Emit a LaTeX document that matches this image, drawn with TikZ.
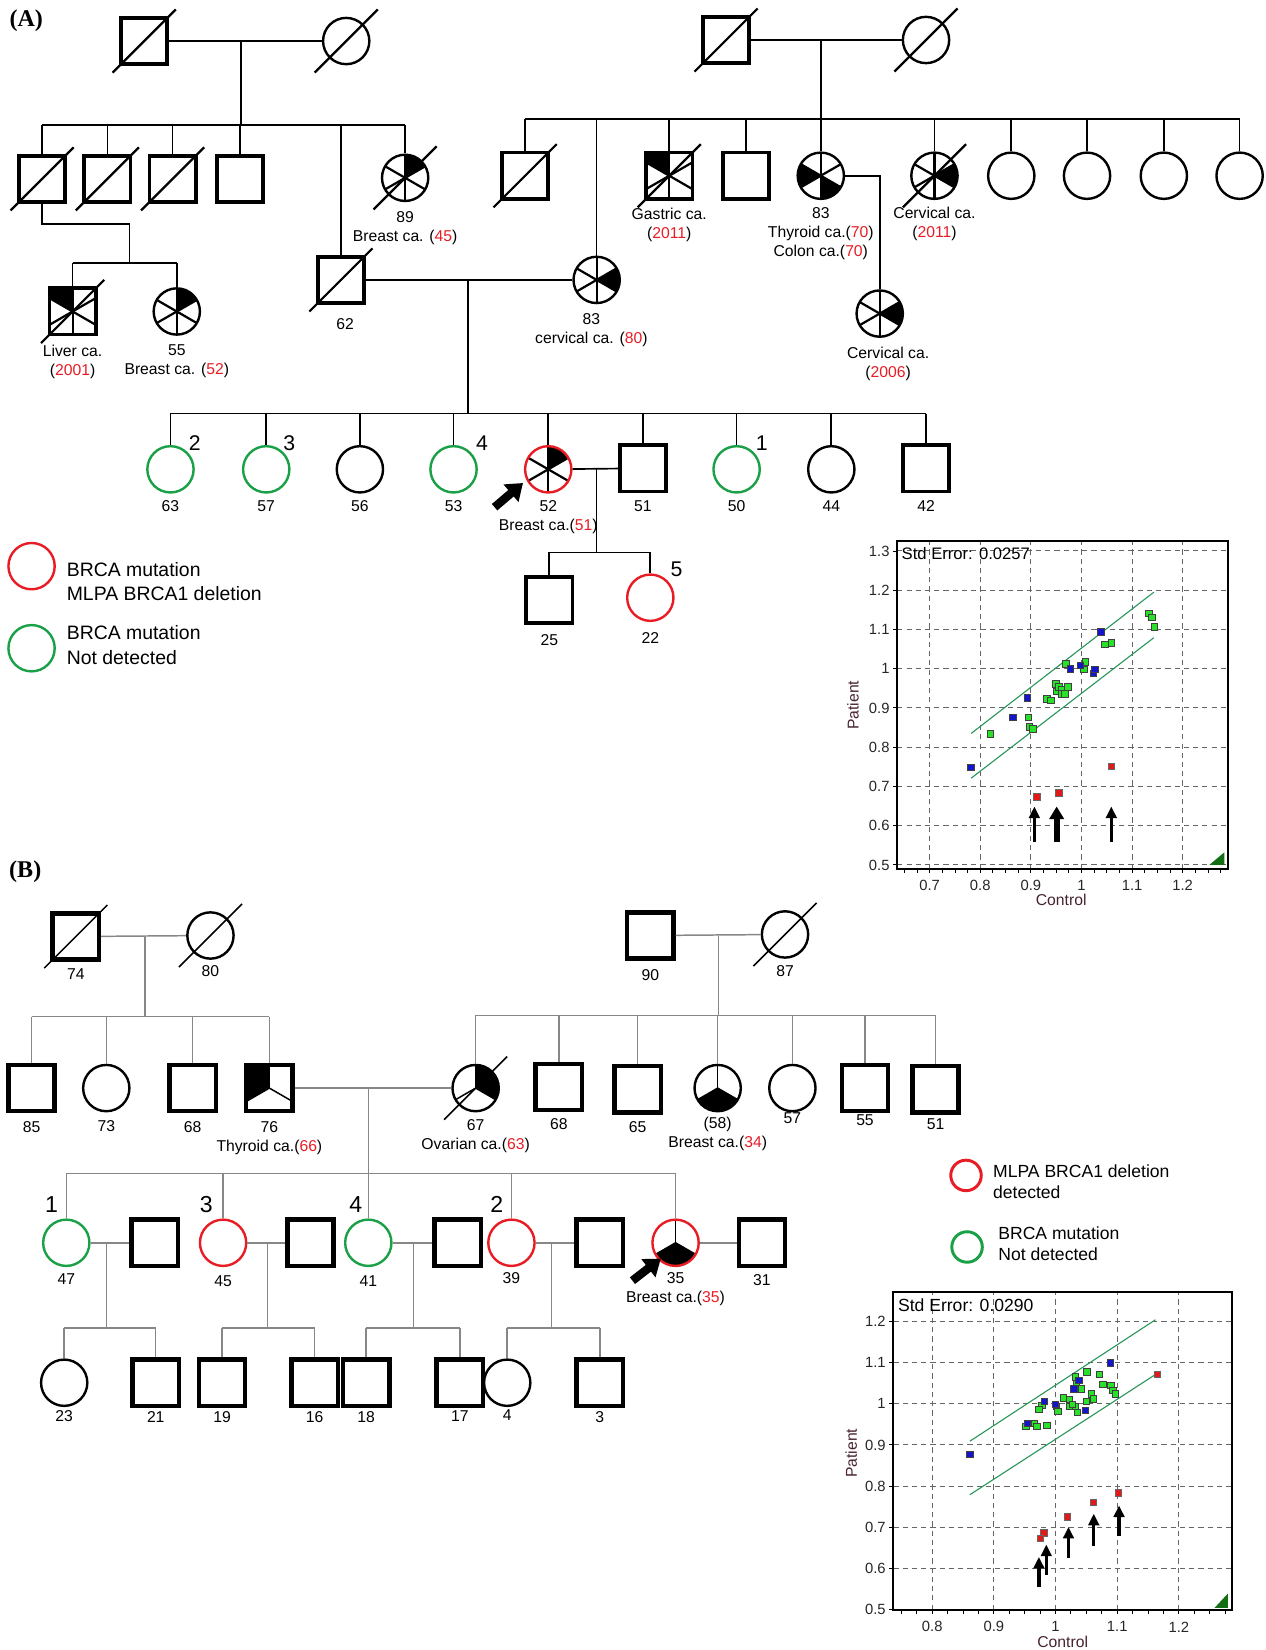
\documentclass[tikz,border=0pt]{standalone}
\usepackage{fontspec}
\setmainfont{Liberation Sans}
\newfontfamily\panelfont{Liberation Serif}
\usepackage{tikz}
\usetikzlibrary{arrows.meta,positioning}
\usepackage{xcolor}
\definecolor{PedRed}{RGB}{232,28,36}
\definecolor{PedGreen}{RGB}{26,160,70}
\definecolor{PedGray}{RGB}{135,135,135}
\definecolor{DotGreen}{RGB}{40,225,40}
\definecolor{DotBlue}{RGB}{20,20,205}
\definecolor{DotRed}{RGB}{225,25,25}
\definecolor{BandGreen}{RGB}{40,150,90}
\definecolor{CornerGreen}{RGB}{20,110,20}
\definecolor{AxisText}{RGB}{70,35,45}
\newcommand{\redage}[1]{\textcolor{PedRed}{#1}}
\newcommand{\deceased}[2][deadmark]{\draw[#1] ([shift={(-30,30)}]#2.center) -- ([shift={(30,-30)}]#2.center);}
\tikzset{
  male/.style={draw,rectangle,line width=2pt,minimum width=0.88cm,minimum height=0.88cm,inner sep=0pt},
  maleB/.style={male,line width=2.4pt},
  female/.style={draw,circle,line width=1.3pt,minimum size=0.88cm,inner sep=0pt},
  testneg/.style={female,draw=PedGreen},
  testpos/.style={female,draw=PedRed},
  kinline/.style={line width=0.9pt},
  kinlineB/.style={line width=0.8pt,draw=PedGray},
  deadmark/.style={line width=1.2pt},
  deadmarkB/.style={line width=0.8pt},
  pie6/.style={path picture={
    \foreach \s/\e in {#1}{\fill[black] (path picture bounding box.center) -- ++(\s:1cm)
      arc[start angle=\s,end angle=\e,radius=1cm] -- cycle;}
    \foreach \a in {30,90,...,330}{\draw[black,line width=1.2pt] (path picture bounding box.center) -- ++(\a:1cm);}}},
  pie3/.style={path picture={
    \foreach \s/\e in {#1}{\fill[black] (path picture bounding box.center) -- ++(\s:1cm)
      arc[start angle=\s,end angle=\e,radius=1cm] -- cycle;}
    \foreach \a in {90,210,330}{\draw[black,line width=0.8pt] (path picture bounding box.center) -- ++(\a:1cm);}}},
  agetext/.style={font=\fontsize{8.5}{10.3}\selectfont,inner sep=0pt,align=center},
  gennum/.style={font=\fontsize{11.5}{13}\selectfont,inner sep=0pt},
  gennumB/.style={font=\fontsize{12.5}{14}\selectfont,inner sep=0pt},
  keytext/.style={font=\fontsize{10.5}{13}\selectfont,inner sep=0pt,align=left},
  keytextB/.style={font=\fontsize{9.5}{11.4}\selectfont,inner sep=0pt,align=left},
  paneltag/.style={font=\panelfont\bfseries\fontsize{13}{15}\selectfont,inner sep=0pt},
  proband/.style={line width=0.16cm,-{Triangle[length=0.3cm,width=0.42cm]}},
  plotframe/.style={line width=1.1pt},
  plotgrid/.style={line width=0.55pt,draw=black!60,dash pattern=on 2.8pt off 2.2pt},
  band/.style={line width=0.6pt,draw=BandGreen},
  dotG/.style={fill=DotGreen,draw=black!75,line width=0.5pt},
  dotB/.style={fill=DotBlue,draw=black!75,line width=0.5pt},
  dotR/.style={fill=DotRed,draw=black!60,line width=0.5pt},
  plottick/.style={line width=0.5pt},
  ticktext/.style={font=\fontsize{8}{9}\selectfont,inner sep=0pt,text=black!85},
  axistitle/.style={font=\fontsize{8.5}{10}\selectfont,inner sep=0pt,text=AxisText},
  errtext/.style={font=\fontsize{9}{10}\selectfont,inner sep=0pt,anchor=west},
  upmark/.style={line width=1.8pt,-{Triangle[length=0.22cm,width=0.2cm]}},
}
\begin{document}
\begin{tikzpicture}[x=0.02cm,y=-0.02cm]
  \useasboundingbox (0,0) rectangle (1203,1568);
  \node[paneltag] (tagA) at (25,20) {(A)};
  \node[male] (i1) at (137,39) {};
  \node[female] (i2) at (329,39) {};
  \node[male] (i3) at (690,38) {};
  \node[female] (i4) at (880,38) {};
  \coordinate (sibL) at (229,119);
  \coordinate (sibR) at (780,113);
  \node[male] (a1) at (40,170) {};
  \node[male] (a2) at (102,170) {};
  \node[male] (a3) at (164,170) {};
  \node[male] (a4) at (228,170) {};
  \node[female,pie6={30/90}] (a89) at (385,169) {};
  \node[male] (a62) at (324,266) {};
  \node[male] (b1) at (499,167) {};
  \node[male,pie6={90/150}] (b2) at (636,167) {};
  \node[male] (b3) at (709,167) {};
  \node[female,pie6={150/210,270/330}] (b4) at (780,167) {};
  \node[female,pie6={-30/30}] (b5) at (888,167) {};
  \node[female] (b6) at (961,167) {};
  \node[female] (b7) at (1033,167) {};
  \node[female] (b8) at (1106,167) {};
  \node[female] (b9) at (1178,167) {};
  \node[female,pie6={-30/30}] (b83) at (567,266) {};
  \node[female,pie6={-30/30}] (b10) at (836,298) {};
  \coordinate (kA) at (123,213);
  \coordinate (sA2) at (123,250);
  \node[male,pie6={90/150}] (c1) at (69,296) {};
  \node[female,pie6={30/90}] (c2) at (168,296) {};
  \coordinate (sC) at (445,393);
  \node[testneg] (g63) at (162,446) {};
  \node[testneg] (g57) at (253,446) {};
  \node[female] (g56) at (342,446) {};
  \node[testneg] (g53) at (431,446) {};
  \node[testpos,pie6={30/90}] (p52) at (521,446) {};
  \node[male] (s51) at (611,445) {};
  \node[testneg] (g50) at (700,446) {};
  \node[female] (g44) at (790,446) {};
  \node[male] (s42) at (880,445) {};
  \coordinate (sD) at (567,525);
  \node[male] (s25) at (522,570) {};
  \node[testpos] (g22) at (618,568) {};
  \foreach \nm in {i1,i2,i3,i4,a1,a2,a3,a89,a62,b1,b2,b5,c1} \deceased{\nm};

  \draw[kinline] (i1) -- (i2);
  \draw[kinline] (sibL |- i1) -- (sibL);
  \draw[kinline] (a1 |- sibL) -- (a89 |- sibL);
  \foreach \nm in {a1,a2,a3,a4,a62,a89} \draw[kinline] (\nm |- sibL) -- (\nm);
  \draw[kinline] (i3) -- (i4);
  \draw[kinline] (sibR |- i3) -- (sibR);
  \draw[kinline] (b1 |- sibR) -- (b9 |- sibR);
  \foreach \nm in {b1,b83,b2,b3,b4,b5,b6,b7,b8,b9} \draw[kinline] (\nm |- sibR) -- (\nm);
  \draw[kinline] (b4) -| (b10);
  \draw[kinline] (a1) |- (kA) -- (sA2);
  \draw[kinline] (c1 |- sA2) -- (c2 |- sA2);
  \foreach \nm in {c1,c2} \draw[kinline] (\nm |- sA2) -- (\nm);
  \draw[kinline] (a62) -- (b83);
  \draw[kinline] (sC |- a62) -- (sC);
  \draw[kinline] (g63 |- sC) -- (s42 |- sC);
  \foreach \nm in {g63,g57,g56,g53,p52,s51,g50,g44,s42} \draw[kinline] (\nm |- sC) -- (\nm);
  \draw[kinline] (p52) -- (s51);
  \draw[kinline] (sD |- p52) -- (sD);
  \draw[kinline] (s25 |- sD) -- (g22 |- sD);
  \foreach \nm in {s25,g22} \draw[kinline] (\nm |- sD) -- (\nm);

  \node[agetext,below=0.17cm of a89] (t89) {89\\Breast ca. (\redage{45})};
  \node[agetext,below=0.15cm of c1] (tc1) {Liver ca.\\(\redage{2001})};
  \node[agetext,below=0.17cm of c2] (tc2) {55\\Breast ca. (\redage{52})};
  \node[agetext,below=0.25cm of a62,xshift=0.08cm] (t62) {62};
  \node[agetext,below=0.17cm of b83,xshift=-0.1cm] (t83c) {83\\cervical ca. (\redage{80})};
  \node[agetext,below=0.13cm of b2] (tb2) {Gastric ca.\\(\redage{2011})};
  \node[agetext,below=0.13cm of b4] (tb4) {83\\Thyroid ca.(\redage{70})\\Colon ca.(\redage{70})};
  \node[agetext,below=0.13cm of b5] (tb5) {Cervical ca.\\(\redage{2011})};
  \node[agetext,below=0.17cm of b10,xshift=0.16cm] (tb10) {Cervical ca.\\(\redage{2006})};
  \foreach \nm/\val in {g63/63,g57/57,g56/56,g53/53,s51/51,g50/50,g44/44,s42/42}
    \node[agetext,below=0.13cm of \nm] (age\val) {\val};
  \node[agetext,below=0.13cm of p52] (t52) {52\\Breast ca.(\redage{51})};
  \node[agetext,below=0.17cm of s25] (t25) {25};
  \node[agetext,below=0.19cm of g22] (t22) {22};
  \node[gennum] (num2) at ([shift={(23,-25)}]g63.center) {2};
  \node[gennum] (num3) at ([shift={(22,-25)}]g57.center) {3};
  \node[gennum] (num4) at ([shift={(27,-25)}]g53.center) {4};
  \node[gennum] (num1) at ([shift={(24,-25)}]g50.center) {1};
  \node[gennum] (num5) at ([shift={(25,-27)}]g22.center) {5};
  \coordinate (pbA) at (470,482);
  \coordinate (pbA2) at (497,459);
  \draw[proband] (pbA) -- (pbA2);

  \node[testpos] (keyA1) at (30,538) {};
  \node[keytext,right=0.2cm of keyA1,yshift=-0.29cm] (keyA1t) {BRCA mutation\\MLPA BRCA1 deletion};
  \node[testneg] (keyA2) at (30,616) {};
  \node[keytext,right=0.2cm of keyA2,yshift=0.06cm] (keyA2t) {BRCA mutation\\Not detected};

  \begin{scope}[shift={(546.8,1008.4)},x=9.62cm,y=7.46cm]
    \draw[plotgrid] foreach \gx in {0.7,0.8,0.9,1.0,1.1,1.2} {(\gx,0.49) -- (\gx,1.3265)};
    \draw[plotgrid] foreach \gy in {0.5,0.6,0.7,0.8,0.9,1.0,1.1,1.2,1.3} {(0.636,\gy) -- (1.289,\gy)};
    \draw[band] (0.782,0.835) -- (1.143,1.195);
    \draw[band] (0.782,0.721) -- (1.143,1.079);
    \foreach \px/\py in {0.820/0.834,0.895/0.876,0.897/0.852,0.904/0.847,0.932/0.923,0.940/0.919,
        0.949/0.961,0.951/0.942,0.955/0.953,0.962/0.947,0.962/0.936,0.968/0.936,0.973/0.953,
        0.970/1.012,1.005/0.998,1.008/1.018,1.047/1.062,1.059/1.065,1.133/1.141,1.139/1.131,1.144/1.107}
      \draw[dotG] (\px,\py) ++(-1.8pt,-1.8pt) rectangle ++(3.6pt,3.6pt);
    \foreach \px/\py in {0.782/0.748,0.864/0.876,0.893/0.926,0.978/0.999,0.998/1.008,
        1.024/0.988,1.027/0.998,1.039/1.094}
      \draw[dotB] (\px,\py) ++(-1.8pt,-1.8pt) rectangle ++(3.6pt,3.6pt);
    \foreach \px/\py in {0.912/0.674,0.955/0.684,1.059/0.751}
      \draw[dotR] (\px,\py) ++(-1.8pt,-1.8pt) rectangle ++(3.6pt,3.6pt);
    \draw[upmark] (0.907,0.559) -- (0.907,0.649);
    \draw[upmark,line width=3.4pt,-{Triangle[length=0.24cm,width=0.27cm]}] (0.951,0.559) -- (0.951,0.649);
    \draw[upmark] (1.059,0.559) -- (1.059,0.649);
    \fill[CornerGreen] (1.2526,0.50) -- (1.2822,0.50) -- (1.2822,0.532) -- cycle;
    \draw[plotframe] (0.636,0.49) rectangle (1.289,1.3265);
    \foreach \mt in {0.65,0.675,...,1.28} \draw[plottick] (\mt,0.49) -- ++(0pt,-2.5pt);
    \foreach \gy in {0.5,0.6,0.7,0.8,0.9,1.0,1.1,1.2,1.3} \draw[plottick] (0.636,\gy) -- ++(-2.5pt,0pt);
    \foreach \gx/\lab [count=\i] in {0.7/0.7,0.8/0.8,0.9/0.9,1.0/1,1.1/1.1,1.2/1.2}
      \node[ticktext] (xa\i) at (\gx,0.449) {\lab};
    \foreach \gy/\lab [count=\i] in {0.5/0.5,0.6/0.6,0.7/0.7,0.8/0.8,0.9/0.9,1.0/1,1.1/1.1,1.2/1.2,1.3/1.3}
      \node[ticktext,anchor=east,xshift=-4pt] (ya\i) at (0.636,\gy) {\lab};
    \node[errtext] (errA) at (0.644,1.294) {Std Error: 0.0257};
    \node[axistitle,rotate=90] (patA) at (0.5487,0.907) {Patient};
    \node[axistitle] (conA) at (0.960,0.412) {Control};
  \end{scope}

  \node[paneltag] (tagB) at (24,828) {(B)};
  \node[maleB] (j1) at (72,890) {};
  \node[female] (j2) at (200,889) {};
  \node[maleB] (j3) at (618,889) {};
  \node[female] (j4) at (746,888) {};
  \coordinate (sE) at (138,966);
  \coordinate (sF) at (683,965);
  \node[maleB] (k85) at (30,1034) {};
  \node[female] (k73) at (101,1034) {};
  \node[maleB] (k68) at (183,1034) {};
  \node[maleB,pie3={90/210}] (k76) at (256,1034) {};
  \node[female,pie3={-30/90}] (m67) at (452,1034) {};
  \node[maleB] (m68) at (531,1033) {};
  \node[maleB] (m65) at (606,1035) {};
  \node[female,pie3={210/330}] (m58) at (682,1034) {};
  \node[female] (m57) at (753,1034) {};
  \node[maleB] (m55) at (822,1034) {};
  \node[maleB] (m51) at (889,1035) {};
  \coordinate (sG) at (350,1115);
  \node[testneg] (n47) at (63,1181) {};
  \node[maleB] (q47) at (147,1181) {};
  \node[testpos] (n45) at (212,1181) {};
  \node[maleB] (q45) at (295,1181) {};
  \node[testneg] (n41) at (350,1181) {};
  \node[maleB] (q41) at (435,1181) {};
  \node[testpos] (n39) at (486,1181) {};
  \node[maleB] (q39) at (570,1181) {};
  \node[testpos,pie3={210/330}] (n35) at (642,1181) {};
  \node[maleB] (q35) at (724,1181) {};
  \coordinate (u47) at (101,1262);
  \coordinate (u45) at (254,1262);
  \coordinate (u41) at (393,1262);
  \coordinate (u39) at (524,1262);
  \node[female] (r23) at (61,1314) {};
  \node[maleB] (r21) at (148,1314) {};
  \node[maleB] (r19) at (211,1314) {};
  \node[maleB] (r16) at (299,1314) {};
  \node[maleB] (r18) at (348,1314) {};
  \node[maleB] (r17) at (437,1314) {};
  \node[female] (r4) at (482,1314) {};
  \node[maleB] (r3) at (570,1314) {};
  \foreach \nm in {j1,j2,j4,m67} \deceased[deadmarkB]{\nm};

  \draw[kinlineB] (j1) -- (j2);
  \draw[kinlineB] (sE |- j1) -- (sE);
  \draw[kinlineB] (k85 |- sE) -- (k76 |- sE);
  \foreach \nm in {k85,k73,k68,k76} \draw[kinlineB] (\nm |- sE) -- (\nm);
  \draw[kinlineB] (j3) -- (j4);
  \draw[kinlineB] (sF |- j3) -- (sF);
  \draw[kinlineB] (m67 |- sF) -- (m51 |- sF);
  \foreach \nm in {m67,m68,m65,m58,m57,m55,m51} \draw[kinlineB] (\nm |- sF) -- (\nm);
  \draw[kinlineB] (k76) -- (m67);
  \draw[kinlineB] (sG |- k76) -- (sG);
  \draw[kinlineB] (n47 |- sG) -- (n35 |- sG);
  \foreach \nm in {n47,n45,n41,n39,n35} \draw[kinlineB] (\nm |- sG) -- (\nm);
  \foreach \wife/\husb/\jct/\kidA/\kidB in {n47/q47/u47/r23/r21,n45/q45/u45/r19/r16,
      n41/q41/u41/r18/r17,n39/q39/u39/r4/r3}{
    \draw[kinlineB] (\wife) -- (\husb);
    \draw[kinlineB] (\jct |- \wife) -- (\jct);
    \draw[kinlineB] (\kidA |- \jct) -- (\kidB |- \jct);
    \draw[kinlineB] (\kidA |- \jct) -- (\kidA);
    \draw[kinlineB] (\kidB |- \jct) -- (\kidB);
  }
  \draw[kinlineB] (n35) -- (q35);

  \node[agetext,below=0.13cm of j1] (t74) {74};
  \node[agetext,below=0.11cm of j2] (t80) {80};
  \node[agetext,below=0.15cm of j3] (t90) {90};
  \node[agetext,below=0.13cm of j4] (t87) {87};
  \foreach \nm/\val/\gap in {k85/85/0.15cm,k73/73/0.15cm,k68/68/0.15cm,m68/68/0.11cm,m65/65/0.12cm,
      m57/57/0cm,m55/55/0.01cm,m51/51/0.07cm,n47/47/0.11cm,n45/45/0.15cm,n41/41/0.15cm,n39/39/0.09cm,
      q35/31/0.11cm,r23/23/0.05cm,r21/21/0.05cm,r19/19/0.05cm,r16/16/0.05cm,r18/18/0.05cm,
      r17/17/0.05cm,r4/4/0.05cm,r3/3/0.05cm}
    \node[agetext,below=\gap of \nm] (l\nm) {\val};
  \node[agetext,below=0.15cm of k76] (l76) {76\\Thyroid ca.(\redage{66})};
  \node[agetext,below=0.13cm of m67] (l67) {67\\Ovarian ca.(\redage{63})};
  \node[agetext,below=0.08cm of m58] (l58) {(58)\\Breast ca.(\redage{34})};
  \node[agetext,below=0.09cm of n35] (l35) {35\\Breast ca.(\redage{35})};
  \node[gennumB] (numB1) at ([shift={(-14,-36)}]n47.center) {1};
  \node[gennumB] (numB3) at ([shift={(-16,-36)}]n45.center) {3};
  \node[gennumB] (numB4) at ([shift={(-12,-36)}]n41.center) {4};
  \node[gennumB] (numB2) at ([shift={(-14,-36)}]n39.center) {2};
  \coordinate (pbB) at (601,1217);
  \coordinate (pbB2) at (628,1196);
  \draw[proband] (pbB) -- (pbB2);

  \node[testpos,minimum size=0.58cm,line width=1.6pt] (keyB1) at (918,1117) {};
  \node[keytextB,right=0.19cm of keyB1,yshift=-0.12cm] (keyB1t) {MLPA BRCA1 deletion\\detected};
  \node[testneg,minimum size=0.58cm,line width=1.6pt] (keyB2) at (919,1185) {};
  \node[keytextB,right=0.27cm of keyB2,yshift=0.06cm] (keyB2t) {BRCA mutation\\Not detected};

  \begin{scope}[shift={(417.2,1725.2)},x=11.72cm,y=7.826cm]
    \draw[plotgrid] foreach \gx in {0.8,0.9,1.0,1.1,1.2} {(\gx,0.4997) -- (\gx,1.2705)};
    \draw[plotgrid] foreach \gy in {0.5,0.6,0.7,0.8,0.9,1.0,1.1,1.2} {(0.737,\gy) -- (1.286,\gy)};
    \draw[band] (0.861,0.909) -- (1.162,1.204);
    \draw[band] (0.861,0.779) -- (1.162,1.071);
    \foreach \px/\py in {1.051/1.077,1.071/1.071,1.032/1.065,1.034/1.050,1.042/1.036,1.077/1.046,
        1.090/1.044,1.093/1.033,1.097/1.024,1.058/1.024,1.061/1.012,1.050/1.006,1.013/1.014,
        1.022/1.010,1.002/0.994,1.004/0.982,1.022/0.994,1.032/0.994,1.035/0.978,0.978/0.995,
        0.973/0.987,0.966/0.952,0.970/0.944,0.952/0.944,0.986/0.948,1.028/0.998}
      \draw[dotG] (\px,\py) ++(-1.7pt,-1.7pt) rectangle ++(3.4pt,3.4pt);
    \foreach \px/\py in {0.861/0.876,1.089/1.099,1.038/1.057,1.030/1.036,0.982/1.006,
        1.000/0.998,1.048/0.984,0.955/0.953}
      \draw[dotB] (\px,\py) ++(-1.7pt,-1.7pt) rectangle ++(3.4pt,3.4pt);
    \foreach \px/\py in {1.165/1.071,1.102/0.783,1.061/0.761,1.019/0.725,0.981/0.686,0.976/0.672}
      \draw[dotR] (\px,\py) ++(-1.7pt,-1.7pt) rectangle ++(3.4pt,3.4pt);
    \foreach \ax/\ay/\az in {0.973/0.554/0.628,0.985/0.583/0.658,1.021/0.626/0.701,
        1.062/0.655/0.733,1.103/0.678/0.753}
      \draw[upmark] (\ax,\ay) -- (\ax,\az);
    \fill[CornerGreen] (1.2578,0.504) -- (1.2795,0.504) -- (1.2795,0.539) -- cycle;
    \draw[plotframe] (0.737,0.4997) rectangle (1.286,1.2705);
    \foreach \mt in {0.75,0.775,...,1.28} \draw[plottick] (\mt,0.4997) -- ++(0pt,-2.5pt);
    \foreach \gy in {0.5,0.6,0.7,0.8,0.9,1.0,1.1,1.2} \draw[plottick] (0.737,\gy) -- ++(-2.5pt,0pt);
    \foreach \gx/\lab [count=\i] in {0.8/0.8,0.9/0.9,1.0/1,1.1/1.1,1.2/1.2}
      \node[ticktext] (xb\i) at (\gx,0.458) {\lab};
    \foreach \gy/\lab [count=\i] in {0.5/0.5,0.6/0.6,0.7/0.7,0.8/0.8,0.9/0.9,1.0/1,1.1/1.1,1.2/1.2}
      \node[ticktext,anchor=east,xshift=-4pt] (yb\i) at (0.737,\gy) {\lab};
    \node[errtext,font=\fontsize{9.5}{11}\selectfont] (errB) at (0.744,1.2405) {Std Error: 0.0290};
    \node[axistitle,rotate=90] (patB) at (0.6686,0.8796) {Patient};
    \node[axistitle] (conB) at (1.0116,0.4225) {Control};
  \end{scope}
\end{tikzpicture}
\end{document}
